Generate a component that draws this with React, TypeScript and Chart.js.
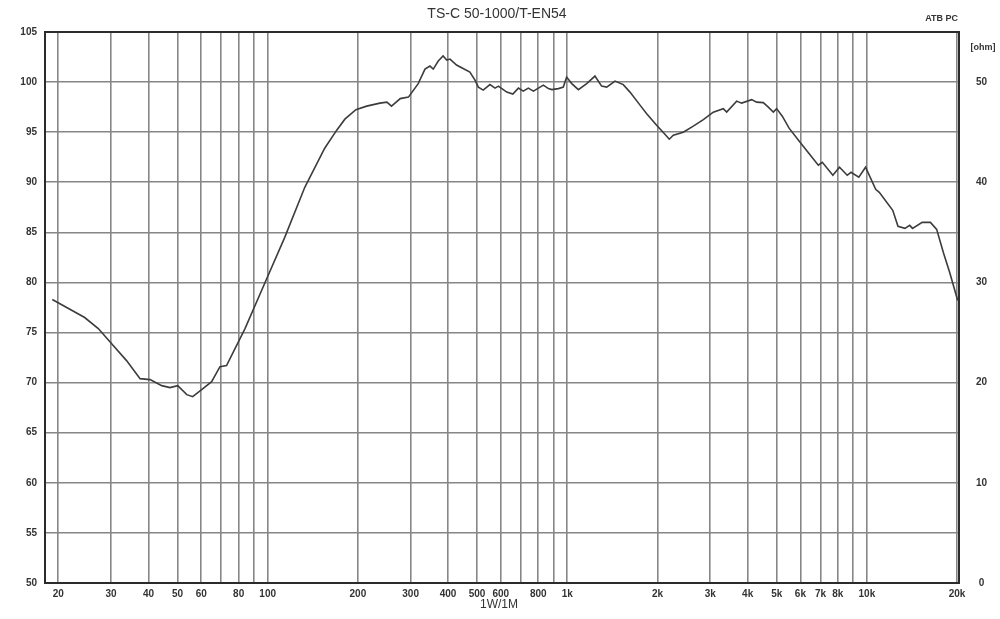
import { useEffect, useRef } from 'react';
import { Chart, registerables } from 'chart.js';

Chart.register(...registerables);

const chartTitle = 'TS-C 50-1000/T-EN54';
const cornerNote = 'ATB PC';
const ohmUnit = '[ohm]';
const xAxisNote = '1W/1M';

const freqHz = [
  19.1, 24.5, 27.2, 30.1, 33.8, 37.5, 40.5, 44.3, 47.2, 50.1, 53.7, 56.2, 60.2, 65.0, 69.3, 72.9,
  84, 98, 114, 133, 155, 170, 181, 197, 214, 237, 250, 259, 277, 295, 318, 335, 348, 357, 371,
  385, 396, 406, 427, 449, 473, 492, 505, 524, 552, 574, 589, 628, 658, 687, 713, 741, 771, 832,
  865, 888, 934, 970, 995, 1035, 1089, 1161, 1237, 1302, 1354, 1443, 1538, 1619, 1749, 1841, 1987,
  2118, 2190, 2259, 2438, 2634, 2845, 3071, 3317, 3404, 3676, 3821, 4124, 4286, 4510, 4688, 4872,
  4998, 5220, 5500, 5984, 6400, 6885, 7100, 7700, 8100, 8600, 8850, 9400, 9900, 10700, 11000,
  12200, 12700, 13400, 13900, 14200, 15300, 16300, 17100, 18000, 18900, 20100,
];

const splDb = [
  78.3, 76.5, 75.4, 73.9, 72.2, 70.4, 70.3, 69.7, 69.5, 69.7, 68.8, 68.6, 69.3, 70.1, 71.6, 71.7,
  75.4, 80.0, 84.5, 89.5, 93.4, 95.2, 96.3, 97.25, 97.6, 97.9, 98.0, 97.6, 98.35, 98.5, 99.85, 101.3, 101.6, 101.3, 102.1,
  102.6, 102.2, 102.3, 101.7, 101.35, 101.0, 100.2, 99.5, 99.2, 99.75, 99.4, 99.6, 99.0, 98.8, 99.4, 99.1, 99.4, 99.1, 99.7,
  99.35, 99.25, 99.35, 99.5, 100.5, 99.85, 99.25, 99.85, 100.6, 99.6, 99.5, 100.1, 99.75, 99.0, 97.7, 96.85, 95.7,
  94.8, 94.3, 94.7, 95.0, 95.6, 96.25, 97.0, 97.35, 97.0, 98.1, 97.9, 98.25, 98.0, 97.95, 97.5, 97.0,
  97.35, 96.6, 95.4, 94.0, 92.9, 91.7, 92.0, 90.7, 91.5, 90.7, 91.0, 90.5, 91.5, 89.3, 89.0,
  87.2, 85.6, 85.4, 85.7, 85.4, 86.0, 86.0, 85.3, 83.0, 81.0, 78.2,
];

const xGridTicks = [
  20, 30, 40, 50, 60, 70, 80, 90, 100, 200, 300, 400, 500, 600, 700, 800, 900,
  1000, 2000, 3000, 4000, 5000, 6000, 7000, 8000, 9000, 10000, 20000,
];
const xLabelValues = [20, 30, 40, 50, 60, 80, 100, 200, 300, 400, 500, 600, 800, 1000, 2000, 3000, 4000, 5000, 6000, 7000, 8000, 10000, 20000];
const xLabelTexts = ['20', '30', '40', '50', '60', '80', '100', '200', '300', '400', '500', '600', '800', '1k', '2k', '3k', '4k', '5k', '6k', '7k', '8k', '10k', '20k'];

const dbTicks = [50, 55, 60, 65, 70, 75, 80, 85, 90, 95, 100, 105];
const ohmTicks = [0, 10, 20, 30, 40, 50];

const FONT = '"Liberation Sans", Arial, sans-serif';

const decorPlugin = {
  id: 'decor',
  afterDraw(chart: any) {
    const { ctx, chartArea: a } = chart;
    ctx.save();
    ctx.strokeStyle = '#2b2b2b';
    ctx.lineWidth = 2;
    ctx.strokeRect(a.left, a.top, a.right - a.left, a.bottom - a.top);
    ctx.fillStyle = '#333';
    ctx.textBaseline = 'middle';
    ctx.textAlign = 'center';
    ctx.font = `14px ${FONT}`;
    ctx.fillText(chartTitle, 497, 14);
    ctx.font = `bold 9px ${FONT}`;
    ctx.textAlign = 'right';
    ctx.fillText(cornerNote, 958, 19);
    ctx.textAlign = 'center';
    ctx.fillText(ohmUnit, 983, 48);
    ctx.font = `12px ${FONT}`;
    ctx.fillText(xAxisNote, 499, 605);
    ctx.restore();
  },
};

export default function App() {
  const ref = useRef<HTMLCanvasElement | null>(null);

  useEffect(() => {
    if (!ref.current) return;
    const tickFont = { family: FONT, size: 10, weight: 'bold' as const };
    const chart = new Chart(ref.current, {
      type: 'line',
      data: {
        datasets: [
          {
            label: 'SPL',
            data: freqHz.map((f, i) => ({ x: f, y: splDb[i] })),
            borderColor: '#3c3c3c',
            borderWidth: 1.6,
            pointRadius: 0,
            tension: 0,
            fill: false,
          },
        ],
      },
      options: {
        responsive: false,
        animation: false,
        layout: { padding: { top: 32, left: 0, right: 0, bottom: 0 } },
        plugins: {
          legend: { display: false },
          tooltip: { enabled: false },
          title: { display: false },
        },
        scales: {
          x: {
            type: 'logarithmic',
            min: 18.06,
            max: 20300,
            afterBuildTicks: (s: any) => {
              s.ticks = xGridTicks.map((v) => ({ value: v }));
            },
            afterFit: (s: any) => {
              s.height = 36;
            },
            grid: { color: '#868686', lineWidth: 1.6, drawTicks: false },
            border: { display: false },
            ticks: {
              autoSkip: false,
              maxRotation: 0,
              minRotation: 0,
              padding: 5,
              color: '#333',
              font: tickFont,
              callback: (v: any) => {
                const i = xLabelValues.indexOf(Number(v));
                return i >= 0 ? xLabelTexts[i] : '';
              },
            },
          },
          y: {
            type: 'linear',
            position: 'left',
            min: 50,
            max: 105,
            afterBuildTicks: (s: any) => {
              s.ticks = dbTicks.map((v) => ({ value: v }));
            },
            afterFit: (s: any) => {
              s.width = 45;
            },
            grid: { color: '#868686', lineWidth: 1.6, drawTicks: false },
            border: { display: false },
            ticks: { padding: 8, color: '#333', font: tickFont },
          },
          y2: {
            type: 'linear',
            position: 'right',
            min: 0,
            max: 55,
            afterBuildTicks: (s: any) => {
              s.ticks = ohmTicks.map((v) => ({ value: v }));
            },
            afterFit: (s: any) => {
              s.width = 41;
            },
            grid: { display: false, drawTicks: false },
            border: { display: false },
            ticks: { padding: 17, crossAlign: 'center', color: '#333', font: tickFont },
          },
        },
      },
      plugins: [decorPlugin],
    });
    return () => chart.destroy();
  }, []);

  return (
    <div style={{ position: 'absolute', left: 0, top: 0, width: 1000, height: 619, background: '#fff' }}>
      <canvas ref={ref} width={1000} height={619} style={{ width: 1000, height: 619, display: 'block' }} />
    </div>
  );
}
